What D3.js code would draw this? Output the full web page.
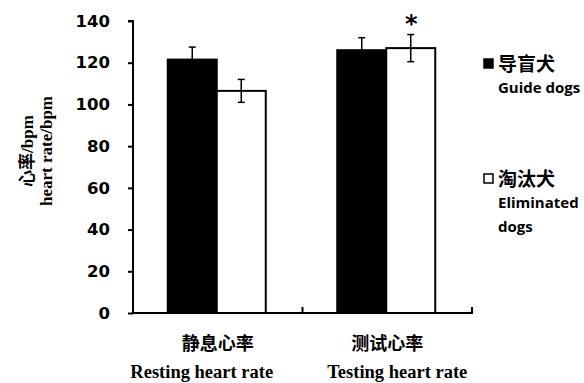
<!DOCTYPE html>
<html><head><meta charset="utf-8">
<script src="https://cdn.jsdelivr.net/npm/d3@7"></script>
<style>body{margin:0;background:#fff}svg{display:block}</style>
</head><body><svg id="c" width="584" height="383"></svg>
<script>
const categoriesCN = ["静息心率", "测试心率"];
const categoriesEN = ["Resting heart rate", "Testing heart rate"];
const seriesCN = ["导盲犬", "淘汰犬"];
const seriesEN = [["Guide dogs"], ["Eliminated", "dogs"]];
const guideMeans = [121.5, 126];
const guideErr = [6, 6];
const elimMeans = [106.5, 127];
const elimErr = [5.5, 6.5];
const yTicks = [0, 20, 40, 60, 80, 100, 120, 140];
const sigMarks = ["", "*"]; // over eliminated bar

const svg = d3.select("#c");
const x0 = d3.scaleBand().domain(categoriesCN).range([133, 472]).paddingInner(0).paddingOuter(0);
const x1 = d3.scaleBand().domain([0, 1]).range([0, 98]);
const y = d3.scaleLinear().domain([0, 140]).range([313, 21]);

const data = [];
categoriesCN.forEach((c, i) => {
  data.push({c, s: 0, v: guideMeans[i], e: guideErr[i], sig: ""});
  data.push({c, s: 1, v: elimMeans[i], e: elimErr[i], sig: sigMarks[i]});
});
const bx = d => x0(d.c) + (x0.bandwidth() - 98) / 2 - 1 + x1(d.s);

svg.selectAll("rect.bar").data(data).join("rect")
  .attr("x", bx).attr("y", d => y(d.v))
  .attr("width", x1.bandwidth()).attr("height", d => y(0) - y(d.v))
  .attr("fill", d => d.s === 0 ? "#000" : "#fff")
  .attr("stroke", "#000").attr("stroke-width", 2);

// error bars (upper and lower)
const eb = svg.append("g").attr("stroke", "#000").attr("stroke-width", 1.5);
data.forEach(d => {
  const cx = bx(d) + x1.bandwidth() / 2;
  eb.append("line").attr("x1", cx).attr("x2", cx).attr("y1", y(d.v + d.e)).attr("y2", y(d.v - d.e));
  eb.append("line").attr("x1", cx - 3.5).attr("x2", cx + 3.5).attr("y1", y(d.v + d.e)).attr("y2", y(d.v + d.e));
  eb.append("line").attr("x1", cx - 3.5).attr("x2", cx + 3.5).attr("y1", y(d.v - d.e)).attr("y2", y(d.v - d.e));
  if (d.sig) {
    svg.append("text").attr("x", cx + 0.5).attr("y", y(d.v + d.e) - 3).attr("text-anchor", "middle")
      .attr("font-family", "DejaVu Sans").attr("font-weight", "bold").attr("font-size", 24).text(d.sig);
  }
});

// y axis
const ya = svg.append("g").attr("transform", "translate(133,0)")
  .call(d3.axisLeft(y).tickValues(yTicks).tickSize(5).tickPadding(18));
ya.select(".domain").attr("stroke-width", 2).attr("d", `M-5,${y(140)}H0V${y(0)}`);
ya.selectAll(".tick line").attr("stroke-width", 2);
ya.selectAll(".tick text").attr("font-family", "DejaVu Sans").attr("font-weight", "bold")
  .attr("font-size", 16.5).attr("fill", "#000");

// x axis with inward ticks at category boundaries
const xa = svg.append("g");
xa.append("line").attr("x1", 132).attr("x2", 473).attr("y1", y(0)).attr("y2", y(0)).attr("stroke", "#000").attr("stroke-width", 2);
const bounds = [x0(categoriesCN[1]), x0.range()[1]];
bounds.forEach(b => xa.append("line").attr("x1", b).attr("x2", b).attr("y1", y(0)).attr("y2", y(0) - 6)
  .attr("stroke", "#000").attr("stroke-width", 2));

// x labels
const enOffset = [-16, 10];
categoriesCN.forEach((c, i) => {
  const cx = x0(c) + x0.bandwidth() / 2;
  svg.append("text").attr("x", cx).attr("y", 350).attr("text-anchor", "middle")
    .attr("font-family", "Noto Sans CJK SC").attr("font-weight", "bold").attr("font-size", 18).text(c);
  svg.append("text").attr("x", cx + enOffset[i]).attr("y", 378).attr("text-anchor", "middle")
    .attr("font-family", "Liberation Serif").attr("font-weight", "bold").attr("font-size", 18.5).text(categoriesEN[i]);
});

// y label
const yl = svg.append("g").attr("transform", "translate(0,151) rotate(-90)");
yl.append("text").attr("x", 0).attr("y", 33).attr("text-anchor", "middle")
  .attr("font-family", "Liberation Serif, Noto Sans CJK SC").attr("font-weight", "bold").attr("font-size", 17).text("心率/bpm");
yl.append("text").attr("x", 0).attr("y", 52).attr("text-anchor", "middle")
  .attr("font-family", "Liberation Serif").attr("font-weight", "bold").attr("font-size", 17).text("heart rate/bpm");

// legend
const legY = [64, 179];
seriesCN.forEach((s, i) => {
  const g = svg.append("g");
  g.append("rect").attr("x", 484).attr("y", legY[i] - 5).attr("width", 9).attr("height", 9)
    .attr("fill", i === 0 ? "#000" : "#fff").attr("stroke", "#000").attr("stroke-width", 1.5);
  g.append("text").attr("x", 498).attr("y", legY[i] + 7).attr("font-family", "Noto Sans CJK SC")
    .attr("font-weight", "bold").attr("font-size", 19).text(s);
  seriesEN[i].forEach((t, j) => {
    g.append("text").attr("x", 498).attr("y", legY[i] + 29 + j * 24).attr("font-family", "Open Sans")
      .attr("font-weight", "bold").attr("font-size", 15).text(t);
  });
});
</script></body></html>
